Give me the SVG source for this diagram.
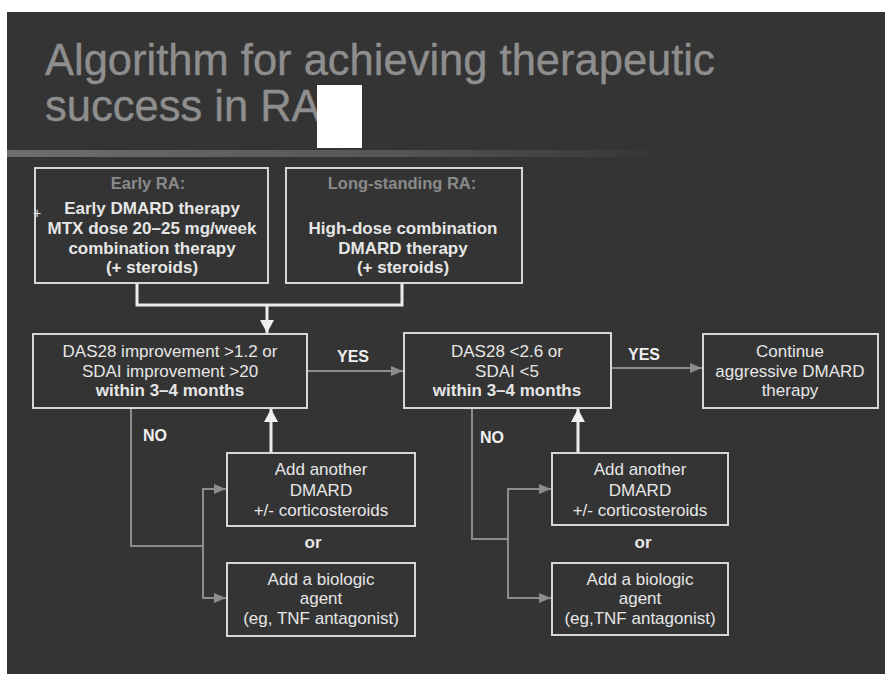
<svg xmlns="http://www.w3.org/2000/svg" width="885" height="674" viewBox="0 0 885 674">
<style>
.bg{fill:#343434}
.box{fill:#343434;stroke:#d6d6d6;stroke-width:2}
.t{font-family:"Liberation Sans",Arial,sans-serif;font-size:17px;fill:#e6e6e6;text-anchor:middle}
.b{font-weight:bold}
.h{font-family:"Liberation Sans",Arial,sans-serif;font-size:16.5px;font-weight:bold;fill:#8a8a8a;text-anchor:middle}
.lbl{font-family:"Liberation Sans",Arial,sans-serif;font-size:16px;font-weight:bold;fill:#f0f0f0}
.title{font-family:"Liberation Sans",Arial,sans-serif;font-size:43.5px;fill:#8e8e8e;stroke:#8e8e8e;stroke-width:0.4}
.w{fill:none;stroke:#ececec;stroke-width:3}
.g{fill:none;stroke:#8c8c8c;stroke-width:2}
</style>
<defs>
<linearGradient id="sep" x1="0" y1="0" x2="1" y2="0">
<stop offset="0" stop-color="#6e6e6e"/>
<stop offset="0.6" stop-color="#555555"/>
<stop offset="1" stop-color="#343434"/>
</linearGradient>
<marker id="ag" markerUnits="userSpaceOnUse" markerWidth="12" markerHeight="10" refX="12" refY="5" orient="auto">
<path d="M0,0 L12,5 L0,10 z" fill="#8c8c8c"/>
</marker>
<marker id="aw" markerUnits="userSpaceOnUse" markerWidth="13" markerHeight="14" refX="13" refY="7" orient="auto">
<path d="M0,0 L13,7 L0,14 z" fill="#f0f0f0"/>
</marker>
</defs>
<rect x="0" y="0" width="885" height="674" fill="#ffffff"/>
<rect class="bg" x="7" y="12" width="878" height="662"/>
<g id="title">
<text class="title" x="45" y="75">Algorithm for achieving therapeutic</text>
<text class="title" x="45" y="121">success in RA</text>
<rect x="317" y="85" width="45" height="63" fill="#ffffff"/>
<rect x="7" y="150" width="660" height="7" fill="url(#sep)"/>
</g>
<g id="connectors">
<polyline class="w" points="137,283 137,305 402,305 402,283"/>
<line class="w" x1="267" y1="304" x2="267" y2="333" marker-end="url(#aw)"/>
<line class="g" x1="307" y1="371" x2="403" y2="371" marker-end="url(#ag)"/>
<line class="g" x1="611" y1="368" x2="702" y2="368" marker-end="url(#ag)"/>
<polyline class="g" points="131,408 131,546 203,546"/>
<line class="g" x1="203" y1="488" x2="203" y2="599"/>
<line class="g" x1="202" y1="489" x2="226" y2="489" marker-end="url(#ag)"/>
<line class="g" x1="202" y1="598" x2="226" y2="598" marker-end="url(#ag)"/>
<line class="w" x1="271" y1="453" x2="271" y2="409" marker-end="url(#aw)"/>
<polyline class="g" points="472,408 472,539 508,539"/>
<line class="g" x1="508" y1="488" x2="508" y2="599"/>
<line class="g" x1="507" y1="489" x2="551" y2="489" marker-end="url(#ag)"/>
<line class="g" x1="507" y1="598" x2="551" y2="598" marker-end="url(#ag)"/>
<line class="w" x1="578" y1="453" x2="578" y2="409" marker-end="url(#aw)"/>
<text class="lbl" x="337" y="362">YES</text>
<text class="lbl" x="628" y="360">YES</text>
<text class="lbl" x="143" y="441">NO</text>
<text class="lbl" x="480" y="443">NO</text>
<text class="t b" x="313" y="548">or</text>
<text class="t b" x="643" y="548">or</text>
</g>
<g id="early">
<rect class="box" x="35" y="168" width="233" height="115"/>
<text class="h" x="148" y="189">Early RA:</text>
<text class="t b" x="152" y="214">Early DMARD therapy</text>
<text class="t b" x="152" y="234">MTX dose 20–25 mg/week</text>
<text class="t b" x="152" y="254">combination therapy</text>
<text class="t b" x="152" y="273">(+ steroids)</text>
<text x="33" y="218" font-family="Liberation Sans,Arial,sans-serif" font-size="14" fill="#e6e6e6">+</text>
</g>
<g id="longstanding">
<rect class="box" x="286" y="168" width="236" height="115"/>
<text class="h" x="402" y="189">Long-standing RA:</text>
<text class="t b" x="403" y="234">High-dose combination</text>
<text class="t b" x="403" y="254">DMARD therapy</text>
<text class="t b" x="403" y="273">(+ steroids)</text>
</g>
<g id="das28improve">
<rect class="box" x="33" y="334" width="274" height="74"/>
<text class="t" x="170" y="357">DAS28 improvement &gt;1.2 or</text>
<text class="t" x="170" y="377">SDAI improvement &gt;20</text>
<text class="t b" x="170" y="396">within 3–4 months</text>
</g>
<g id="das28low">
<rect class="box" x="404" y="333" width="207" height="75"/>
<text class="t" x="507" y="357">DAS28 &lt;2.6 or</text>
<text class="t" x="507" y="377">SDAI &lt;5</text>
<text class="t b" x="507" y="396">within 3–4 months</text>
</g>
<g id="continue">
<rect class="box" x="703" y="334" width="175" height="74"/>
<text class="t" x="790" y="357">Continue</text>
<text class="t" x="790" y="377">aggressive DMARD</text>
<text class="t" x="790" y="396">therapy</text>
</g>
<g id="adddmard1">
<rect class="box" x="227" y="453" width="188" height="73"/>
<text class="t" x="321" y="475">Add another</text>
<text class="t" x="321" y="496">DMARD</text>
<text class="t" x="321" y="516">+/- corticosteroids</text>
</g>
<g id="addbio1">
<rect class="box" x="227" y="563" width="188" height="73"/>
<text class="t" x="321" y="585">Add a biologic</text>
<text class="t" x="321" y="604">agent</text>
<text class="t" x="321" y="624">(eg, TNF antagonist)</text>
</g>
<g id="adddmard2">
<rect class="box" x="552" y="453" width="176" height="72"/>
<text class="t" x="640" y="475">Add another</text>
<text class="t" x="640" y="496">DMARD</text>
<text class="t" x="640" y="516">+/- corticosteroids</text>
</g>
<g id="addbio2">
<rect class="box" x="552" y="563" width="176" height="72"/>
<text class="t" x="640" y="585">Add a biologic</text>
<text class="t" x="640" y="604">agent</text>
<text class="t" x="640" y="624">(eg,TNF antagonist)</text>
</g>
</svg>
